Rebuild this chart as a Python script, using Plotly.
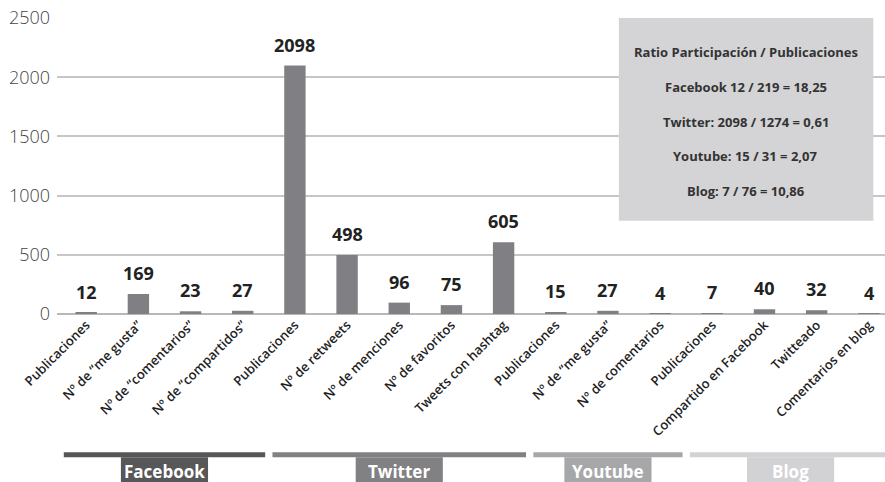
import plotly.graph_objects as go

# ---- data ----
categories = [
    "Publicaciones", "Nº de “me gusta”", "Nº de “comentarios”", "Nº de “compartidos”",
    "Publicaciones ", "Nº de retweets", "Nº de menciones", "Nº de favoritos", "Tweets con hashtag",
    "Publicaciones  ", "Nº de “me gusta” ", "Nº de comentarios",
    "Publicaciones   ", "Compartido en Facebook", "Twitteado", "Comentarios en blog",
]
values = [12, 169, 23, 27, 2098, 498, 96, 75, 605, 15, 27, 4, 7, 40, 32, 4]
value_labels = [str(v) for v in values]

groups = ["Facebook", "Twitter", "Youtube", "Blog"]
group_first = [0, 4, 9, 12]
group_last = [3, 8, 11, 15]
group_colors = ["#575759", "#818184", "#a7a7aa", "#d2d2d4"]

ratio_lines = [
    "Ratio Participación / Publicaciones",
    "Facebook 12 / 219 = 18,25",
    "Twitter: 2098 / 1274 = 0,61",
    "Youtube: 15 / 31 = 2,07",
    "Blog: 7 / 76 = 10,86",
]

y_ticks = [0, 500, 1000, 1500, 2000, 2500]

# ---- figure ----
FONT = "Open Sans"
x_idx = list(range(len(categories)))

fig = go.Figure()
fig.add_trace(go.Bar(
    x=x_idx, y=values, width=0.41,
    marker=dict(color="#808084", line=dict(width=0)),
    hoverinfo="skip",
))

annotations = []
for i, (v, t) in enumerate(zip(values, value_labels)):
    annotations.append(dict(
        x=i, y=v, xref="x", yref="y", text=t, showarrow=False,
        yanchor="bottom", yshift=7,
        font=dict(family=FONT, size=18, color="#222222", weight="bold"),
    ))

shapes = []
# ratio box
shapes.append(dict(type="rect", xref="paper", yref="paper",
                   x0=0.6786, x1=0.9859, y0=0.315, y1=1.0,
                   fillcolor="#d4d4d6", line=dict(width=0), layer="above"))
for k, line in enumerate(ratio_lines):
    annotations.append(dict(
        x=0.832, y=0.884 - k * 0.117, xref="paper", yref="paper",
        text=line, showarrow=False, xanchor="center", yanchor="middle",
        font=dict(family=FONT, size=13, color="#333333", weight="bold"),
    ))

# group bars and labels
pad = 0.07
box_half = 0.835
for g, a, b, c in zip(groups, group_first, group_last, group_colors):
    x0 = a - 0.5 + pad
    x1 = b + 0.5 - pad
    shapes.append(dict(type="rect", xref="x", yref="paper",
                       x0=x0, x1=x1, y0=-0.4841, y1=-0.4672,
                       fillcolor=c, line=dict(width=0), layer="above"))
    xc = (x0 + x1) / 2
    shapes.append(dict(type="rect", xref="x", yref="paper",
                       x0=xc - box_half, x1=xc + box_half, y0=-0.62, y1=-0.4841,
                       fillcolor=c, line=dict(width=0), layer="above"))
    annotations.append(dict(
        x=xc, y=-0.531, xref="x", yref="paper", text=g, showarrow=False,
        xanchor="center", yanchor="middle",
        font=dict(family=FONT, size=17, color="#ffffff", weight="bold"),
    ))

fig.update_layout(
    width=885, height=482,
    margin=dict(l=57, r=0, t=18, b=168, pad=0),
    paper_bgcolor="#ffffff", plot_bgcolor="#ffffff",
    showlegend=False,
    bargap=0.6,
    shapes=shapes,
    annotations=annotations,
    xaxis=dict(
        range=[-0.56, 15.31],
        tickmode="array", tickvals=x_idx, ticktext=[c.strip() for c in categories],
        tickangle=-45, ticks="", showgrid=False, zeroline=False, showline=False,
        tickfont=dict(family=FONT, size=13, color="#1e1e1e", weight=600),
        fixedrange=True,
    ),
    yaxis=dict(
        range=[0, 2500], tickvals=y_ticks, ticks="",
        showgrid=True, gridcolor="#c6c6c6", gridwidth=1.5,
        zeroline=True, zerolinecolor="#b8b8b8", zerolinewidth=1.5,
        showline=False,
        tickfont=dict(family=FONT, size=18, color="#444444", weight=300),
        ticklabelstandoff=6,
        fixedrange=True,
    ),
)

fig.write_html(
    "out.html",
    config={"displayModeBar": False},
    post_script="document.body.style.margin='0';document.body.style.overflow='hidden';",
)
